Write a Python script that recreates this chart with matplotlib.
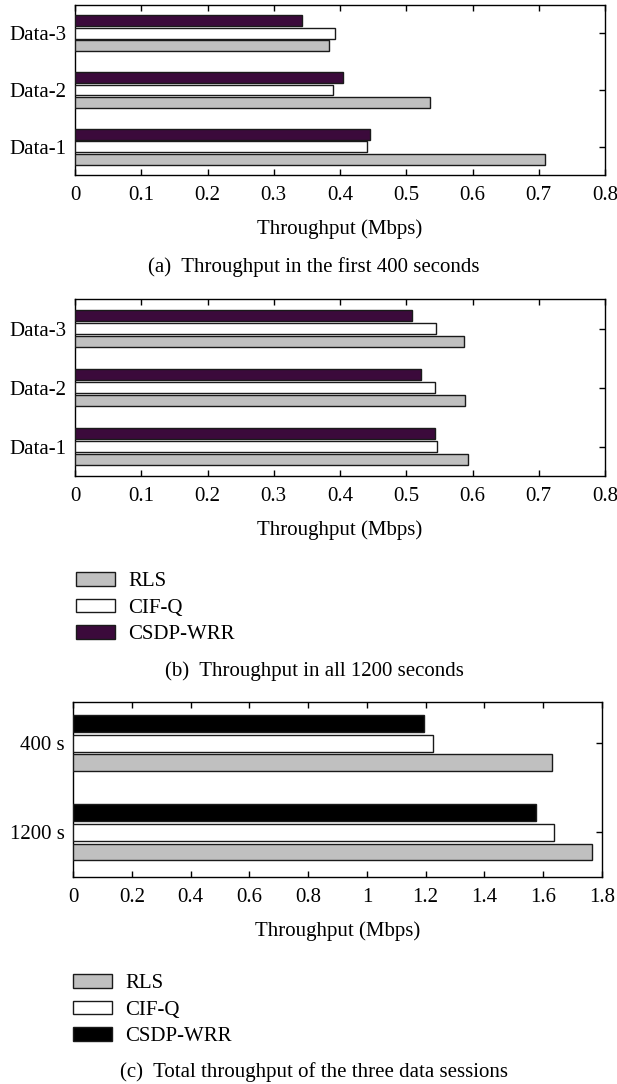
import matplotlib
matplotlib.use('Agg')
import matplotlib.pyplot as plt
import numpy as np

# ---- data ----
schemes = ['RLS', 'CIF-Q', 'CSDP-WRR']
sessions = ['Data-1', 'Data-2', 'Data-3']

# (a) first 400 s, values per session (Data-1, Data-2, Data-3)
rls_400 = [0.709, 0.536, 0.384]
cifq_400 = [0.440, 0.390, 0.393]
csdp_400 = [0.446, 0.405, 0.343]

# (b) all 1200 s
rls_1200 = [0.593, 0.589, 0.587]
cifq_1200 = [0.546, 0.544, 0.545]
csdp_1200 = [0.543, 0.522, 0.508]

# (c) total of the three sessions
periods = ['1200 s', '400 s']
rls_total = [1.767, 1.629]
cifq_total = [1.635, 1.224]
csdp_total = [1.574, 1.194]

plt.rcParams['font.family'] = ['Liberation Serif', 'DejaVu Serif']
plt.rcParams['font.size'] = 15

W, H = 617, 1084
fig = plt.figure(figsize=(W / 100, H / 100), dpi=100)


def px_axes(left, right, top, bottom):
    return fig.add_axes([left / W, 1 - bottom / H, (right - left) / W, (bottom - top) / H])


def bar_panel(ax, labels, rls, cifq, csdp, third_color, xmax, xstep, ylim):
    y = np.arange(1, len(labels) + 1)
    off = 0.22
    h = 0.19
    kw = dict(height=h, edgecolor='#1a1a1a', linewidth=1.0, zorder=3)
    b1 = ax.barh(y - off, rls, color='#c0c0c0', label=schemes[0], **kw)
    b2 = ax.barh(y, cifq, color='white', label=schemes[1], **kw)
    b3 = ax.barh(y + off, csdp, color=third_color, label=schemes[2], **kw)
    ax.set_xlim(0, xmax)
    ax.set_ylim(*ylim)
    ax.set_xticks(np.arange(0, xmax + xstep / 2, xstep))
    ax.set_yticks(y)
    ax.set_yticklabels(labels)
    ax.tick_params(axis='x', direction='in', top=True, length=4, width=1, pad=8)
    ax.tick_params(axis='y', direction='in', right=True, left=False, length=4, width=1, pad=6)
    for s in ax.spines.values():
        s.set_linewidth(1.0)
    ax.set_xlabel('Throughput (Mbps)', labelpad=10)
    return [b1, b2, b3]


def fmt(v, pos):
    s = f'{v:.1f}'
    if s.endswith('.0'):
        s = s[:-2]
    return s


purple = '#3b0a3b'

ax_a = px_axes(75, 605, 5, 175)
bar_panel(ax_a, sessions, rls_400, cifq_400, csdp_400, purple, 0.8, 0.1, (0.5, 3.5))
ax_a.xaxis.set_major_formatter(fmt)

ax_b = px_axes(75, 605, 299, 476)
hb = bar_panel(ax_b, sessions, rls_1200, cifq_1200, csdp_1200, purple, 0.8, 0.1, (0.5, 3.5))
ax_b.xaxis.set_major_formatter(fmt)

ax_c = px_axes(73, 602, 702, 877)
hc = bar_panel(ax_c, periods, rls_total, cifq_total, csdp_total, 'black', 1.8, 0.2, (0.5, 2.46))
ax_c.xaxis.set_major_formatter(fmt)

leg_kw = dict(loc='upper left', frameon=False, handlelength=1.85, handleheight=0.65,
              labelspacing=0.35, handletextpad=0.65, borderpad=0, borderaxespad=0)
fig.legend(hb, schemes, bbox_to_anchor=(76 / W, 1 - 572 / H), **leg_kw)
fig.legend(hc, schemes, bbox_to_anchor=(73 / W, 1 - 974 / H), **leg_kw)

cx = 314 / W
fig.text(cx, 1 - 267 / H, '(a)  Throughput in the first 400 seconds', ha='center', va='center')
fig.text(cx, 1 - 671 / H, '(b)  Throughput in all 1200 seconds', ha='center', va='center')
fig.text(cx, 1 - 1072 / H, '(c)  Total throughput of the three data sessions', ha='center', va='center')

fig.savefig('out.png', dpi=100)
